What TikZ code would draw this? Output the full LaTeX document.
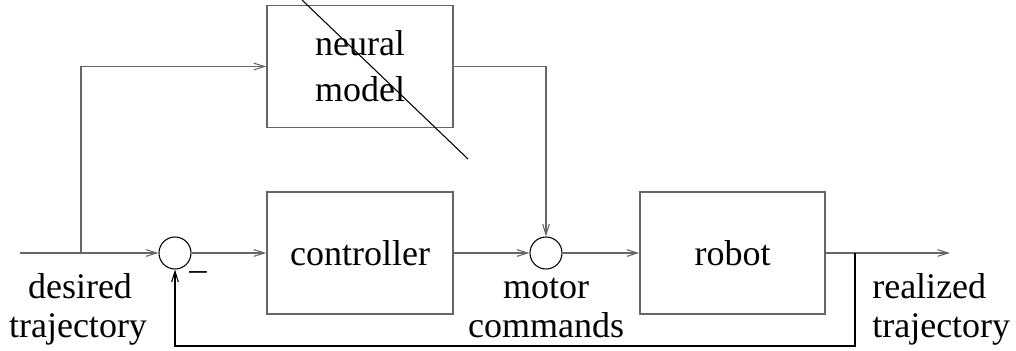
\documentclass[tikz,border=0pt]{standalone}
\usepackage{fontspec}
\setmainfont{Liberation Serif}
\usetikzlibrary{arrows.meta}
\begin{document}
\begin{tikzpicture}[x=0.75pt,y=-0.75pt,
  conn/.style={draw=gray!80!black,line width=1.1pt,-{Straight Barb[length=8pt,width=5pt,line width=0.8pt]}},
  blockbox/.style={draw=gray!80!black,line width=1.1pt,minimum width=139.5pt,minimum height=91.5pt,inner sep=0pt,font=\fontsize{27}{34.5}\selectfont,align=center},
  sumnode/.style={draw=black,line width=0.8pt,circle,minimum size=24pt,inner sep=0pt},
  lbl/.style={font=\fontsize{27}{29.25}\selectfont,align=center,inner sep=0pt,anchor=base}]
\useasboundingbox (0,0) rectangle (1016,350);
\node[blockbox] (neural) at (360,66.5) {neural\\model};
\node[blockbox] (ctrl) at (360,253) {controller};
\node[blockbox,minimum width=138.75pt] (robot) at (732.5,253) {robot};
\node[sumnode] (s1) at (175,253) {};
\node[sumnode] (s2) at (546,253) {};
\coordinate (in) at (20,253);
\coordinate (br) at (81,253);
\coordinate (out) at (950,253);
\coordinate (fb) at (855,253);
\coordinate (fbb) at (855,346);
\coordinate (d1) at (302,0);
\coordinate (d2) at (468,159);
\draw[conn] (in) -- (s1.west);
\draw[conn] (br) |- (neural.west);
\draw[conn] (s1.east) -- (ctrl.west);
\draw[conn] (ctrl.east) -- (s2.west);
\draw[conn] (neural.east) -| (s2.north);
\draw[conn] (s2.east) -- (robot.west);
\draw[conn] (robot.east) -- (out);
\draw[conn,draw=black,line width=0.8pt] (fb) -- (fbb) -| (s1.south);
\draw[black,line width=0.8pt] (d1) -- (d2);
\node[lbl,anchor=center,font=\fontsize{26}{26}\selectfont] (minus) at (198,276) {–};
\node[lbl] (desired) at (80,298) {desired};
\node[lbl] (traj1) at (78,337) {trajectory};
\node[lbl] (motor) at (546,298) {motor};
\node[lbl] (cmds) at (546,337) {commands};
\node[lbl,anchor=base west] (realized) at (872,298) {realized};
\node[lbl,anchor=base west] (traj2) at (872,337) {trajectory};
\end{tikzpicture}
\end{document}
